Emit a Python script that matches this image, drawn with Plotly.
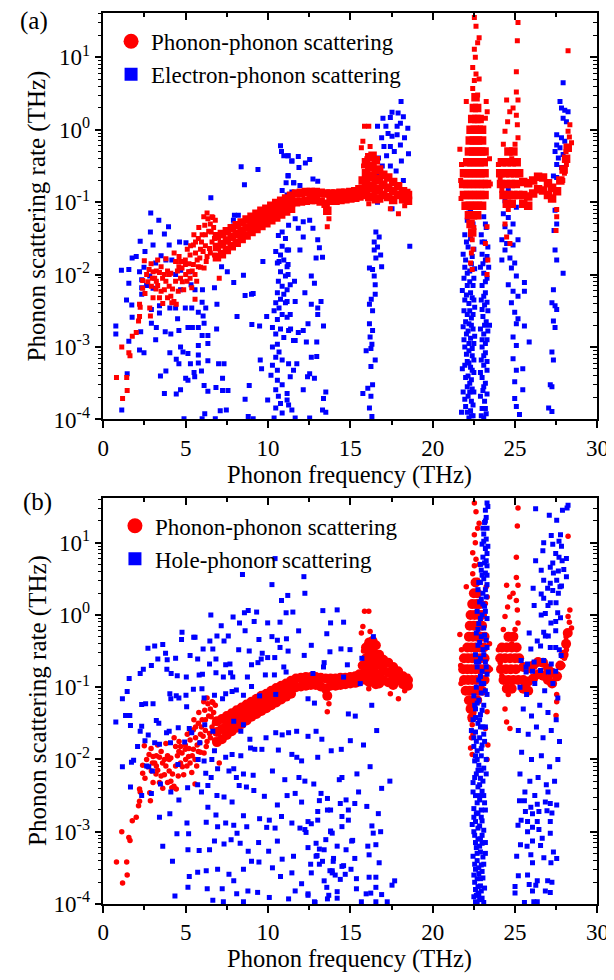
import plotly.graph_objects as go

# ---------------- data: (frequency THz, log10 of scattering rate THz) ----------------
# phonon-phonon scattering, scattered points (same in both panels)
pp_sparse = [
    (0.80,-3.42),(1.17,-3.71),(1.45,-3.60),(1.42,-3.42),(1.12,-3.00),(1.55,-3.08),(1.62,-3.12),
    (1.76,-2.85),(2.00,-2.80),(2.14,-2.64),(2.20,-2.58),(2.24,-2.45),(2.20,-2.41),(2.39,-2.19),
    (2.53,-2.26),(2.39,-2.08),(2.49,-1.81),(2.63,-2.00),(2.78,-1.93),(2.82,-2.46),(2.86,-2.57),
    (2.92,-2.16),(2.98,-2.05),(3.02,-1.96),(3.02,-2.32),(3.12,-2.05),(3.22,-2.09),(3.22,-1.95),
    (3.41,-1.97),(3.41,-2.32),(3.51,-2.23),(3.51,-1.89),(3.61,-2.40),(3.71,-2.21),(3.71,-2.00),
    (3.80,-2.09),(3.90,-2.32),(4.00,-2.16),(4.00,-2.00),(4.10,-1.98),(4.16,-2.39),(4.29,-2.37),
    (4.39,-2.09),(4.39,-1.82),(4.43,-2.41),(4.55,-2.23),(4.59,-1.89),(4.69,-1.82),(4.69,-2.05),
    (4.78,-1.91),(4.88,-2.21),(4.98,-1.80),(4.98,-1.86),(5.08,-2.09),(5.18,-1.96),(5.27,-1.73),
    (5.27,-2.05),(5.37,-2.18),(5.47,-1.59),(5.47,-1.86),(5.57,-2.00),(5.57,-2.34),(5.67,-2.09),
    (5.77,-1.50),(5.77,-1.89),(5.86,-1.77),(5.96,-1.55),(6.06,-1.68),(6.12,-1.91),(6.16,-1.32),
    (6.25,-1.82),(6.35,-1.23),(6.45,-1.64),(6.55,-1.41),(6.65,-1.21),(6.75,-1.50),(6.75,-1.73),
    (7.04,-2.05),(3.30,-2.15),(3.60,-2.05),(3.90,-1.95),(4.20,-2.20),(4.50,-1.95),(4.80,-2.10),
    (5.00,-2.00),(5.20,-1.85),(5.40,-1.95),(5.60,-1.70),(5.70,-1.80),(5.90,-1.65),(6.00,-1.45),
    (6.20,-1.60),(6.30,-1.75),(6.40,-1.40),(6.50,-1.30),(6.60,-1.55),(6.70,-1.35),(6.80,-1.25),
    (6.90,-1.60),(4.10,-2.30),(3.20,-2.20),(2.70,-2.10),(2.90,-1.85),(3.30,-1.80),(3.80,-1.78),
    (4.30,-1.70),(4.60,-1.75),(5.10,-1.65),(5.30,-1.60),(5.50,-1.45),(5.80,-1.35),(6.10,-1.20),
    (6.30,-1.15),(6.60,-1.20),(6.50,-1.70),(6.20,-1.45),(5.90,-1.90),(5.60,-1.55),
    (13.60,-1.34),(13.70,-1.23),(15.86,0.05),(16.12,0.05),(15.76,-0.16),(16.20,-0.23),(15.67,-0.25),
    (16.12,-1.02),(17.92,-1.16),(17.43,-1.09),(18.30,-1.05),(18.50,-0.85),(16.00,-0.40),(15.80,-0.50),
    (22.53,1.55),(22.63,1.43),(22.82,1.27),(22.73,1.20),(22.53,1.11),(22.59,1.00),(22.43,0.86),
    (22.63,0.77),(22.53,0.68),(22.43,0.57),(22.82,0.70),(22.73,0.48),(23.25,0.39),(23.31,0.25),
    (23.20,0.16),(22.04,0.39),(21.65,-0.27),(21.75,-0.48),(21.70,-0.70),(21.72,-0.95),(23.45,-0.40),
    (23.50,-0.75),(22.40,-1.52),(22.30,-1.84),(22.40,-1.93),(22.35,-1.70),(22.45,-1.65),(23.30,-1.34),
    (23.20,-1.57),(23.35,-1.80),(23.30,-2.00),(22.30,-1.45),(22.50,-1.35),
    (24.68,0.25),(24.88,0.30),(25.08,0.20),(25.14,0.07),(24.55,0.11),(24.39,-0.02),(25.18,-0.11),
    (24.29,-0.20),(24.49,0.41),(25.18,0.41),(25.08,0.52),(25.08,0.80),(25.14,1.23),(25.18,1.48),
    (24.59,-1.10),(24.39,-1.30),(24.49,-1.48),(24.69,-1.57),(23.99,-0.48),(24.10,-0.66),(24.20,-0.84),
    (24.80,-0.40),(25.00,-0.20),
    (28.22,1.09),(28.22,-0.02),(28.33,0.07),(28.43,-0.18),(28.12,-0.48),(28.00,-0.60),(27.53,-1.20),
    (27.49,-1.39),(27.53,-1.10),(27.90,-0.70),(28.10,-0.30),(28.30,-0.10),
]

# phonon-phonon scattering, dense band (same in both panels)
pp_dense = [
    (6.9,-1.47),(6.9,-1.62),(6.9,-1.76),(7.2,-1.44),(7.2,-1.58),(7.2,-1.72),
    (7.5,-1.40),(7.5,-1.53),(7.5,-1.66),(7.8,-1.36),(7.8,-1.48),(7.8,-1.61),
    (8.1,-1.32),(8.1,-1.44),(8.1,-1.56),(8.4,-1.28),(8.4,-1.40),(8.4,-1.51),
    (8.7,-1.24),(8.7,-1.35),(8.7,-1.46),(9.0,-1.20),(9.0,-1.31),(9.0,-1.41),
    (9.3,-1.16),(9.3,-1.27),(9.3,-1.37),(9.6,-1.12),(9.6,-1.23),(9.6,-1.33),
    (9.9,-1.09),(9.9,-1.19),(9.9,-1.29),(10.2,-1.05),(10.2,-1.16),(10.2,-1.25),
    (10.5,-1.01),(10.5,-1.12),(10.5,-1.21),(10.8,-0.98),(10.8,-1.08),(10.8,-1.17),
    (11.1,-0.95),(11.1,-1.05),(11.1,-1.13),(11.4,-0.91),(11.4,-1.01),(11.4,-1.09),
    (11.7,-0.88),(11.7,-1.00),(12.0,-0.87),(12.0,-0.99),(12.3,-0.86),(12.3,-0.98),
    (12.6,-0.86),(12.6,-0.97),(12.9,-0.86),(12.9,-0.97),(13.2,-0.87),(13.2,-0.99),
    (13.5,-0.88),(13.5,-1.02),(13.6,-1.12),(13.8,-0.88),(13.8,-0.98),(14.1,-0.88),
    (14.1,-0.98),(14.4,-0.87),(14.4,-0.97),(14.7,-0.87),(14.7,-0.96),(15.0,-0.86),
    (15.0,-0.95),(15.3,-0.85),(15.3,-0.94),(15.55,-0.82),(15.55,-0.92),
    (15.75,-0.70),(15.75,-0.85),(15.95,-0.45),(15.95,-0.60),(15.95,-0.75),(15.95,-0.90),
    (16.15,-0.38),(16.15,-0.52),(16.15,-0.66),(16.15,-0.80),(16.15,-0.93),
    (16.35,-0.36),(16.35,-0.50),(16.35,-0.64),(16.35,-0.78),(16.35,-0.92),
    (16.55,-0.42),(16.55,-0.56),(16.55,-0.70),(16.55,-0.84),(16.55,-0.96),
    (16.75,-0.55),(16.75,-0.68),(16.75,-0.82),(16.75,-0.95),
    (17.0,-0.62),(17.0,-0.76),(17.0,-0.90),(17.3,-0.66),(17.3,-0.80),(17.3,-0.93),
    (17.6,-0.72),(17.6,-0.85),(17.6,-0.97),(17.9,-0.78),(17.9,-0.90),(18.2,-0.85),
    (18.2,-0.96),(18.5,-0.90),(18.5,-0.98),
    (22.6,0.45),(22.5,0.30),(22.7,0.30),(22.4,0.15),(22.65,0.15),(22.85,0.15),
    (22.3,0.0),(22.55,0.0),(22.8,0.0),(23.0,0.0),(22.25,-0.15),(22.5,-0.15),(22.75,-0.15),
    (23.0,-0.15),(22.2,-0.3),(22.45,-0.3),(22.7,-0.3),(22.95,-0.3),(23.15,-0.3),
    (22.1,-0.45),(22.35,-0.45),(22.6,-0.45),(22.85,-0.45),(23.1,-0.45),
    (21.9,-0.6),(22.15,-0.6),(22.4,-0.6),(22.65,-0.6),(22.9,-0.6),(23.15,-0.6),
    (21.85,-0.75),(22.1,-0.75),(22.35,-0.75),(22.6,-0.75),(22.85,-0.75),(23.1,-0.75),(23.3,-0.75),
    (21.9,-0.9),(22.15,-0.9),(22.4,-0.9),(22.65,-0.9),(22.9,-0.9),(23.15,-0.9),
    (22.0,-1.05),(22.25,-1.05),(22.5,-1.05),(22.75,-1.05),(23.0,-1.05),
    (22.2,-1.18),(22.45,-1.18),(22.7,-1.18),(22.3,-1.3),(22.4,-1.42),
    (24.6,-0.3),(24.9,-0.3),(24.2,-0.45),(24.5,-0.45),(24.8,-0.45),(25.1,-0.45),
    (24.1,-0.6),(24.4,-0.6),(24.7,-0.6),(25.0,-0.6),(25.25,-0.6),(24.15,-0.75),(24.45,-0.75),
    (24.75,-0.75),(25.05,-0.75),(24.3,-0.9),(24.6,-0.9),(24.9,-0.9),(25.2,-0.9),(24.5,-1.02),(24.8,-1.02),
    (25.5,-0.72),(25.5,-0.9),(25.8,-0.74),(25.8,-0.92),(26.1,-0.70),(26.1,-0.88),(26.4,-0.65),
    (26.4,-0.82),(26.7,-0.66),(26.7,-0.84),(27.0,-0.74),(27.0,-0.90),(27.25,-0.80),(27.25,-0.95),
    (25.5,-1.02),(25.8,-1.05),
    (27.55,-0.85),(27.75,-0.70),(27.95,-0.55),(28.1,-0.40),(28.2,-0.25),
]

# electron-phonon scattering (panel a)
ep_cloud = [
    (8.37,-0.51),(9.39,-0.55),(8.57,-0.76),(6.53,-0.94),(2.88,-1.15),(3.37,-1.25),(3.96,-1.34),
    (2.86,-1.41),(3.71,-1.44),(2.24,-1.54),(3.02,-1.59),(4.00,-1.59),(4.63,-1.55),(5.02,-1.56),
    (2.53,-1.68),(2.00,-1.75),(1.75,-1.77),(3.51,-1.74),(3.80,-1.80),(4.16,-1.80),(3.18,-1.84),
    (1.10,-1.94),(1.55,-1.93),(2.20,-1.96),(2.47,-1.90),(4.39,-2.00),(4.70,-1.94),(5.27,-1.96),
    (2.82,-2.02),(2.33,-2.07),(2.63,-2.15),(1.55,-2.12),(2.33,-2.18),(3.02,-2.19),(4.69,-2.21),
    (5.33,-2.14),(5.57,-2.21),(6.02,-2.21),(6.75,-2.18),(1.41,-2.35),(2.33,-2.27),(3.41,-2.43),
    (4.39,-2.46),(4.04,-2.46),(4.98,-2.46),(5.37,-2.46),(6.00,-2.38),(6.22,-2.46),(6.90,-2.41),
    (1.73,-2.42),(2.92,-2.48),(3.41,-2.53),(4.51,-2.61),(5.77,-2.52),(6.06,-2.57),(8.12,-2.58),
    (7.92,-2.11),(8.51,-2.01),(7.53,-1.96),(7.18,-1.89),(9.10,-2.26),(8.61,-2.29),(9.92,-2.58),
    (9.02,-2.69),(9.49,-2.71),(6.88,-2.75),(6.12,-2.67),(1.75,-2.59),(0.76,-2.71),(0.76,-2.82),
    (2.27,-2.79),(2.92,-2.67),(3.22,-2.73),(3.76,-2.79),(4.10,-2.82),(4.59,-2.77),(5.14,-2.73),
    (5.41,-2.73),(5.77,-2.73),(3.18,-2.90),(6.00,-2.84),(6.35,-2.84),(6.35,-2.95),(5.77,-2.98),
    (1.55,-2.92),(2.20,-3.04),(2.47,-3.08),(4.04,-3.08),(4.69,-3.00),(4.84,-3.07),(5.14,-3.09),
    (5.77,-3.11),(4.43,-3.17),(4.59,-3.23),(5.29,-3.23),(5.77,-3.22),(5.96,-3.33),(5.51,-3.35),
    (6.35,-3.19),(7.00,-3.23),(7.33,-3.23),(3.80,-3.33),(3.47,-3.40),(5.00,-3.43),(5.14,-3.46),
    (5.55,-3.41),(6.12,-3.53),(6.35,-3.61),(6.84,-3.56),(7.24,-3.43),(7.24,-3.60),(7.57,-3.60),
    (4.69,-3.59),(3.71,-3.64),(4.43,-3.65),(8.86,-3.53),(8.61,-3.72),(9.53,-3.18),(9.61,-3.30),
    (9.98,-3.73),(1.12,-3.87),(1.45,-3.37),(6.16,-3.92),(7.10,-3.88),(7.47,-3.87),(8.80,-3.96),
    (9.10,-3.99),(6.80,-3.99),(6.00,-3.99),(4.90,-3.99),(9.69,-1.82),(7.96,-1.18),(8.20,-1.18),
    (7.90,-1.25),(7.90,-1.33),(7.57,-1.38),(9.00,-2.27),
]
ep_col_11 = [
    (10.76,-0.22),(10.82,-0.30),(10.96,-0.36),(11.22,-0.36),(11.45,-0.43),(11.22,-0.63),(11.57,-0.73),
    (10.86,-0.84),(11.45,-0.86),(11.16,-0.90),(10.76,-1.14),(10.86,-1.41),(10.63,-1.46),(11.06,-1.50),
    (10.86,-1.61),(11.16,-1.66),(10.76,-1.73),(10.96,-1.80),(10.57,-1.84),(11.16,-1.89),(10.76,-1.96),
    (11.06,-2.02),(10.63,-2.09),(10.86,-2.16),(11.16,-2.21),(10.57,-2.25),(10.96,-2.27),(10.76,-2.34),
    (10.47,-2.39),(11.06,-2.39),(10.67,-2.46),(10.37,-2.50),(10.86,-2.55),(10.57,-2.62),(11.16,-2.59),
    (10.27,-2.73),(10.76,-2.75),(10.47,-2.82),(10.96,-2.87),(10.57,-2.96),(10.27,-3.00),(10.67,-3.07),
    (10.47,-3.14),(10.86,-3.18),(10.27,-3.25),(10.57,-3.32),(10.18,-3.39),(10.57,-3.46),(10.86,-3.52),
    (10.47,-3.59),(10.63,-3.68),(10.76,-3.78),(10.47,-3.84),(10.86,-3.91),(10.37,-3.98),(11.25,-3.23),
    (11.16,-3.64),(11.45,-3.87),(11.55,-2.91),(11.37,-2.75),(11.65,-2.37),(11.61,-2.09),(10.67,-1.82),
    (10.47,-1.68),(11.25,-1.32),
    (11.84,-0.37),(11.22,-0.36),(11.45,-0.43),(11.88,-0.52),(12.27,-0.46),(12.53,-0.41),(12.73,-0.68),
    (13.02,-0.71),(11.22,-0.64),(11.55,-0.73),(11.94,-0.77),(11.10,-0.73),(11.65,-1.23),(12.14,-1.27),
    (12.53,-1.25),(11.84,-1.36),(12.73,-1.36),(12.14,-1.48),(13.02,-1.52),(11.94,-1.66),(13.12,-1.63),
    (11.25,-1.66),(11.22,-1.86),(12.92,-1.77),(13.31,-1.76),(12.63,-2.02),(11.22,-2.00),(11.35,-2.14),
    (12.82,-2.12),(11.16,-2.37),(12.24,-2.25),(12.63,-2.41),(13.02,-2.46),(13.22,-2.37),(13.02,-2.55),
    (11.35,-2.55),(11.25,-2.77),(11.84,-2.80),(12.14,-2.77),(12.43,-2.68),(13.37,-2.71),(11.65,-2.91),
    (12.33,-2.93),(12.96,-2.93),(12.63,-3.14),(12.96,-3.13),(11.75,-3.23),(11.55,-3.32),(12.53,-3.37),
    (12.40,-3.41),(12.82,-3.43),(11.35,-3.41),(13.51,-3.62),(13.37,-3.71),(12.14,-3.59),(11.16,-3.73),
    (11.25,-3.80),(13.31,-3.87),(13.51,-3.90),(11.65,-3.98),(12.53,-3.98),
]
ep_col_16 = [
    (16.55,-1.41),(16.75,-1.48),(16.45,-1.55),(16.65,-1.62),(16.84,-1.73),(16.45,-1.66),(16.55,-1.77),
    (16.16,-1.91),(16.90,-1.89),(16.35,-1.93),(16.45,-2.02),(16.51,-2.14),(16.51,-2.27),(16.27,-2.34),
    (16.16,-2.41),(16.35,-2.50),(16.16,-2.68),(16.35,-2.77),(16.20,-2.86),(16.31,-2.96),(15.96,-3.05),
    (16.25,-3.02),(16.51,-3.18),(16.25,-3.27),(16.35,-3.52),(16.06,-3.57),(15.76,-3.64),(16.25,-3.68),
    (16.16,-3.84),(16.31,-3.96),(18.61,-1.61),
    (18.08,0.39),(17.53,0.24),(17.90,0.23),(18.22,0.18),(16.98,0.16),(17.43,0.17),(17.16,0.05),
    (17.84,0.05),(18.04,0.09),(18.49,0.02),(16.65,0.05),(16.90,-0.11),(17.29,-0.05),(17.53,-0.09),
    (17.84,-0.07),(18.29,-0.11),(17.04,-0.23),(17.43,-0.23),(18.04,-0.21),(18.53,-0.33),(17.67,-0.30),
    (17.20,-0.36),(16.71,-0.39),(18.10,-0.43),(17.43,-0.50),(17.78,-0.57),(18.22,-0.70),(16.94,-0.50),
    (16.65,-0.64),(17.53,-1.09),(16.65,-1.00),
]
ep_col_22 = [
    (22.30,-1.12),(22.10,-1.25),(22.45,-1.30),(21.95,-1.45),(22.30,-1.50),(22.15,-1.62),(22.50,-1.65),
    (21.85,-1.72),(22.00,-1.80),(22.35,-1.85),(22.55,-1.92),(22.10,-1.98),(21.90,-2.05),(22.25,-2.10),
    (22.45,-2.15),(21.80,-2.22),(22.05,-2.28),(22.40,-2.32),(22.20,-2.40),(22.55,-2.45),(21.90,-2.50),
    (22.10,-2.55),(22.35,-2.60),(22.20,-2.68),(21.85,-2.72),(22.45,-2.75),(22.05,-2.82),(22.30,-2.88),
    (22.50,-2.95),(21.95,-3.00),(22.20,-3.05),(22.40,-3.12),(22.10,-3.20),(22.30,-3.28),(21.80,-3.30),
    (22.50,-3.35),(22.00,-3.42),(22.25,-3.50),(22.40,-3.58),(21.85,-3.62),(22.15,-3.68),(22.35,-3.75),
    (22.00,-3.82),(22.30,-3.88),(22.45,-3.95),(22.20,-3.98),(21.75,-3.90),
    (22.20,-1.15),(22.40,-1.40),(22.05,-1.55),(22.40,-1.75),(21.95,-1.90),(22.25,-1.95),(22.50,-2.05),
    (22.10,-2.15),(22.30,-2.25),(21.95,-2.35),(22.50,-2.35),(22.25,-2.50),(22.45,-2.55),(22.00,-2.65),
    (22.35,-2.70),(22.15,-2.78),(22.55,-2.85),(21.90,-2.90),(22.20,-2.95),(22.40,-3.02),(22.05,-3.10),
    (22.50,-3.18),(22.20,-3.22),(21.95,-3.25),(22.40,-3.32),(22.15,-3.40),(22.35,-3.45),(22.10,-3.55),
    (22.50,-3.62),(22.25,-3.62),(21.95,-3.72),(22.45,-3.80),(22.10,-3.90),(22.35,-3.95),
    (23.10,-1.20),(23.25,-1.35),(22.95,-1.45),(23.15,-1.55),(23.35,-1.62),(23.00,-1.72),(23.20,-1.80),
    (22.90,-1.90),(23.10,-1.98),(23.30,-2.05),(23.00,-2.15),(23.20,-2.25),(22.95,-2.35),(23.15,-2.42),
    (23.35,-2.50),(23.05,-2.58),(23.25,-2.65),(22.90,-2.75),(23.10,-2.82),(23.30,-2.90),(23.00,-3.00),
    (23.20,-3.08),(22.95,-3.18),(23.10,-3.25),(23.30,-3.32),(23.00,-3.42),(23.20,-3.50),(23.05,-3.60),
    (22.90,-3.68),(23.15,-3.75),(23.00,-3.85),(23.25,-3.92),(23.10,-3.98),(23.40,-1.90),(23.45,-2.70),
    (23.20,-1.30),(23.00,-1.55),(23.30,-1.75),(23.05,-1.85),(23.20,-2.10),(23.10,-2.30),(23.30,-2.38),
    (23.00,-2.48),(23.15,-2.70),(23.35,-2.78),(23.00,-2.90),(23.20,-2.95),(23.10,-3.12),(23.30,-3.20),
    (22.90,-3.35),(23.10,-3.55),(23.30,-3.65),(23.20,-3.85),(22.95,-3.95),
]
ep_col_25 = [
    (24.59,-0.84),(24.39,-0.98),(24.78,-1.02),(25.08,-1.07),(24.29,-1.16),(24.59,-1.21),(24.88,-1.30),
    (24.39,-1.34),(24.69,-1.41),(24.20,-1.52),(24.49,-1.57),(24.88,-1.59),(25.18,-1.52),(24.39,-1.66),
    (24.69,-1.77),(24.98,-1.84),(24.78,-1.91),(24.20,-1.80),(25.08,-2.02),(25.57,-2.11),(24.59,-2.14),
    (24.88,-2.23),(25.57,-2.23),(25.18,-2.30),(24.78,-2.39),(24.98,-2.52),(25.18,-2.61),(25.57,-2.71),
    (25.08,-2.68),(25.86,-2.93),(24.88,-2.86),(25.08,-2.98),(24.88,-3.16),(25.08,-3.32),(25.47,-3.30),
    (24.98,-3.48),(25.47,-3.59),(24.98,-3.71),(25.08,-3.82),(25.27,-3.93),
]
ep_col_28 = [
    (27.92,0.65),(27.73,0.39),(27.82,0.30),(28.02,0.27),(28.22,0.25),(27.92,0.16),(28.12,0.11),
    (27.53,-0.07),(27.82,-0.11),(28.02,-0.16),(27.53,-0.21),(27.73,-0.25),(27.43,-0.30),(28.12,-0.25),
    (27.92,-0.34),(27.63,-0.39),(27.53,-0.48),(27.82,-0.52),(27.33,-0.64),(27.53,-0.66),(27.43,-1.11),
    (27.53,-1.30),(27.37,-1.39),(27.43,-1.66),(27.53,-1.80),(27.92,-1.98),(27.33,-2.21),(27.24,-2.39),
    (27.43,-2.43),(27.53,-2.48),(27.33,-2.64),(27.43,-2.73),(27.24,-3.07),(27.33,-3.18),(27.14,-3.52),
    (27.24,-3.55),(27.04,-3.84),(27.24,-3.89),
]

# hole-phonon scattering (panel b)
hp_cloud = [
    (8.45,0.56),(12.18,0.53),(10.24,0.42),(12.24,0.30),(11.20,0.27),(10.82,0.20),(13.33,0.06),
    (14.20,0.07),(8.57,0.03),(8.80,0.06),(9.31,0.04),(6.53,0.00),(7.88,-0.03),(8.27,-0.11),
    (7.16,-0.15),(9.16,-0.09),(9.98,-0.11),(10.73,-0.10),(11.10,0.03),(11.51,0.04),(13.80,-0.11),
    (14.59,-0.10),(11.86,-0.22),(13.57,-0.26),(4.78,-0.24),(5.49,-0.31),(5.57,-0.31),(6.47,-0.36),
    (6.90,-0.29),(7.33,-0.36),(7.59,-0.29),(8.61,-0.22),(9.45,-0.34),(10.24,-0.30),(10.57,-0.35),
    (11.12,-0.33),(2.71,-0.46),(3.12,-0.43),(3.61,-0.41),(4.75,-0.34),(6.06,-0.47),(6.65,-0.47),
    (8.22,-0.48),(8.86,-0.50),(9.65,-0.53),(10.73,-0.45),(11.22,-0.50),(12.63,-0.42),(13.76,-0.51),
    (14.43,-0.47),(14.98,-0.48),(3.78,-0.53),(3.31,-0.61),(3.88,-0.62),(4.39,-0.60),(5.27,-0.56),
    (5.73,-0.61),(6.45,-0.68),(6.84,-0.61),(7.43,-0.69),(7.69,-0.68),(9.00,-0.69),(9.39,-0.66),
    (9.59,-0.61),(9.98,-0.59),(10.41,-0.59),(10.96,-0.72),(12.20,-0.56),(13.37,-0.72),(13.41,-0.66),
    (2.92,-0.70),(2.43,-0.75),(2.24,-0.81),(1.57,-0.88),(3.86,-0.75),(4.12,-0.81),(4.49,-0.84),
    (5.04,-0.86),(5.82,-0.83),(6.02,-0.82),(6.84,-0.80),(7.29,-0.86),(7.73,-0.80),(7.86,-0.86),
    (8.75,-0.86),(9.84,-0.83),(10.39,-0.83),(11.10,-0.79),(12.73,-0.81),(14.59,-0.86),(14.82,-0.69),
    (1.45,-1.06),(1.16,-1.16),(2.33,-1.24),(2.57,-1.23),(3.02,-1.23),(4.04,-1.09),(4.10,-1.16),
    (4.43,-1.12),(4.59,-1.15),(5.02,-1.11),(5.06,-1.27),(5.47,-1.03),(5.99,-1.02),(6.12,-1.15),
    (6.75,-1.11),(7.24,-1.16),(7.43,-1.09),(7.82,-1.06),(8.08,-1.04),(8.51,-1.11),(9.00,-0.99),
    (9.49,-1.12),(10.47,-1.10),(12.43,-1.16),(12.82,-1.22),(14.88,-1.37),(0.76,-1.48),(1.35,-1.39),
    (1.61,-1.39),(1.65,-1.53),(2.33,-1.54),(2.24,-1.61),(2.73,-1.66),(3.22,-1.46),(3.37,-1.50),
    (4.00,-1.61),(3.84,-1.63),(4.55,-1.56),(5.37,-1.63),(5.86,-1.77),(6.16,-1.52),(6.65,-1.61),
    (8.51,-1.52),(8.35,-1.61),(7.92,-1.47),(8.90,-1.72),(9.88,-1.70),(10.47,-1.63),(10.86,-1.66),
    (11.25,-1.63),(11.74,-1.61),(12.92,-1.61),(13.27,-1.72),(12.43,-1.68),(15.00,-1.74),(2.08,-1.82),
    (2.53,-1.74),(3.12,-1.77),(3.41,-1.79),(4.08,-1.77),(4.94,-1.76),(5.22,-1.57),(6.12,-2.02),
    (6.75,-1.88),(7.43,-1.97),(7.82,-1.93),(8.35,-1.95),(8.94,-1.84),(9.20,-1.86),(9.63,-1.86),
    (10.63,-1.87),(11.45,-1.93),(11.75,-1.97),(12.04,-2.02),(13.02,-1.97),(13.84,-1.88),(14.45,-1.86),
    (1.71,-2.04),(1.84,-2.01),(1.16,-2.10),(2.63,-2.09),(2.98,-2.16),(2.76,-2.10),(4.53,-2.07),
    (5.76,-2.00),(6.22,-2.19),(6.59,-2.00),(6.94,-2.13),(6.55,-2.25),(7.63,-2.16),(7.92,-2.13),
    (8.08,-2.25),(8.51,-2.20),(9.10,-2.22),(10.27,-2.16),(11.02,-2.28),(11.88,-2.25),(12.24,-2.30),
    (12.78,-2.34),(14.33,-2.28),(14.49,-2.25),(1.65,-2.38),(2.33,-2.50),(2.92,-2.47),(3.47,-2.34),
    (4.10,-2.45),(4.59,-2.56),(5.12,-2.39),(5.73,-2.35),(6.35,-2.36),(5.96,-2.45),(6.90,-2.50),
    (7.33,-2.52),(7.82,-2.59),(8.25,-2.36),(8.69,-2.38),(9.14,-2.43),(9.78,-2.51),(10.57,-2.63),
    (11.16,-2.50),(11.65,-2.47),(12.04,-2.59),(13.22,-2.47),(13.61,-2.70),(14.39,-2.61),(14.88,-2.84),
    (3.41,-2.80),(4.04,-2.75),(4.47,-3.03),(5.08,-2.88),(5.18,-3.03),(6.25,-2.87),(6.35,-2.66),
    (6.84,-2.77),(6.94,-2.93),(7.43,-2.88),(7.92,-2.91),(8.12,-3.02),(8.51,-2.78),(8.71,-2.93),
    (9.49,-2.82),(9.92,-2.94),(10.08,-2.84),(10.43,-2.95),(10.82,-2.79),(11.45,-2.88),(11.94,-2.95),
    (12.31,-3.01),(13.02,-2.84),(13.80,-2.99),(14.49,-2.93),(15.08,-3.13),(3.61,-3.20),(5.14,-3.25),
    (5.82,-3.26),(6.45,-3.25),(6.75,-3.13),(7.33,-3.17),(7.76,-3.11),(8.31,-3.16),(8.80,-3.27),
    (9.43,-3.15),(10.04,-3.27),(10.57,-3.13),(10.86,-3.38),(11.55,-3.34),(12.43,-3.22),(12.98,-3.33),
    (13.41,-3.25),(13.96,-3.41),(14.49,-3.48),(4.20,-3.41),(5.73,-3.56),(6.25,-3.54),(6.94,-3.52),
    (7.63,-3.59),(7.92,-3.68),(8.51,-3.52),(9.00,-3.41),(9.45,-3.42),(10.27,-3.50),(10.76,-3.62),
    (11.45,-3.57),(12.04,-3.72),(12.63,-3.57),(13.41,-3.68),(13.90,-3.54),(14.39,-3.66),(5.22,-3.62),
    (5.14,-3.77),(6.31,-3.79),(7.22,-3.79),(8.10,-3.86),(8.78,-3.82),(9.37,-3.84),(10.08,-3.91),
    (11.25,-3.93),(11.65,-3.82),(12.43,-3.86),(13.61,-3.93),(4.35,-3.89),(6.65,-3.95),(8.51,-3.97),
    (12.82,-3.97),(14.20,-3.92),(7.29,-3.97),(10.43,0.78),
    (12.43,-2.86),(12.63,-2.89),(13.12,-2.57),(13.61,-2.54),(14.74,-2.56),(15.27,-2.61),(14.88,-2.70),
    (14.49,-2.79),(13.80,-2.70),(13.02,-2.72),(12.24,-2.97),(13.80,-3.00),(13.90,-3.02),(12.92,-3.16),
    (13.51,-3.11),(13.12,-3.24),(14.20,-3.20),(14.74,-3.25),(15.14,-3.12),(16.06,-3.20),(16.55,-3.18),
    (16.39,-3.02),(16.84,-3.00),(16.31,-2.92),(15.27,-3.37),(12.92,-3.34),(13.31,-3.41),(13.98,-3.37),
    (12.59,-3.45),(13.12,-3.45),(13.76,-3.54),(14.59,-3.47),(15.04,-3.52),(16.14,-3.32),(16.75,-3.43),
    (13.90,-3.57),(14.08,-3.60),(14.69,-3.59),(15.37,-3.65),(16.14,-3.63),(16.55,-3.63),(17.69,-3.68),
    (17.53,-3.74),(16.55,-3.77),(15.37,-3.79),(13.57,-3.77),(14.20,-3.83),(13.69,-3.88),(12.43,-3.88),
    (15.96,-3.86),(16.24,-3.85),(16.90,-3.87),(15.67,-3.97),(16.55,-3.97),(17.24,-3.97),(12.86,-3.98),
    (15.40,-2.20),(16.20,-2.10),(15.80,-1.80),(16.60,-1.60),(15.30,-1.40),(16.30,-1.25),(15.60,-0.95),
    (16.90,-2.40),(17.40,-2.30),(15.50,-2.45),(16.00,-2.65),(16.70,-2.75),(15.70,-0.60),(16.40,-0.30),
]
hp_col_23 = [
    (23.30,1.55),(23.20,1.45),(23.25,1.35),(23.15,1.28),(23.30,1.20),(23.10,1.12),(23.25,1.05),
    (23.00,0.98),(23.20,0.92),(23.30,0.85),(23.05,0.80),(23.15,0.72),(23.30,0.68),(22.95,0.62),
    (23.20,0.58),(23.10,0.50),(22.90,0.45),(23.30,0.42),(22.75,0.35),(23.05,0.30),(23.25,0.25),
    (22.85,0.18),(23.15,0.12),(22.70,0.05),(23.00,0.00),(23.30,-0.05),(22.80,-0.12),(23.10,-0.18),
    (22.65,-0.25),(22.95,-0.30),(23.25,-0.35),(22.75,-0.42),(23.05,-0.48),(22.60,-0.55),(22.90,-0.60),
    (23.20,-0.65),(22.70,-0.72),(23.00,-0.78),(23.30,-0.82),(22.80,-0.90),(23.10,-0.95),(22.65,-1.00),
    (22.95,-1.08),(22.50,-1.12),(22.80,-1.18),(23.10,-1.25),(22.60,-1.30),(22.90,-1.38),(22.45,-1.45),
    (22.75,-1.50),(23.05,-1.55),(22.60,-1.62),(22.85,-1.70),(23.15,-1.75),(22.50,-1.82),(22.70,-1.88),
    (22.95,-1.95),(22.55,-2.02),(22.80,-2.08),(23.10,-2.12),(22.65,-2.20),(22.90,-2.26),(22.45,-2.32),
    (22.75,-2.38),(23.00,-2.44),(22.60,-2.50),(22.85,-2.56),(23.15,-2.60),(22.50,-2.68),(22.75,-2.74),
    (22.95,-2.80),(22.60,-2.86),(22.85,-2.92),(23.10,-2.98),(22.55,-3.05),(22.75,-3.10),(23.00,-3.16),
    (22.65,-3.22),(22.90,-3.28),(22.45,-3.34),(22.70,-3.40),(22.95,-3.46),(22.60,-3.52),(22.80,-3.58),
    (23.05,-3.64),(22.55,-3.70),(22.75,-3.76),(22.95,-3.82),(22.65,-3.88),(22.85,-3.94),(22.70,-3.99),
    (23.20,-3.30),(22.40,-2.90),(23.25,-2.20),(22.35,-1.60),
    (23.20,1.30),(23.10,1.02),(23.25,0.75),(23.00,0.55),(23.20,0.35),(22.95,0.22),(23.20,0.05),
    (22.90,-0.05),(23.15,-0.28),(22.85,-0.38),(23.10,-0.55),(22.80,-0.65),(23.25,-0.72),(22.90,-0.85),
    (23.20,-1.05),(22.70,-1.22),(23.00,-1.32),(22.60,-1.42),(22.90,-1.55),(23.10,-1.65),(22.65,-1.75),
    (22.95,-1.85),(22.70,-2.00),(22.95,-2.15),(22.55,-2.25),(22.85,-2.35),(23.10,-2.50),(22.70,-2.60),
    (22.95,-2.70),(22.50,-2.80),(22.75,-2.95),(23.00,-3.05),(22.60,-3.15),(22.85,-3.20),(23.05,-3.35),
    (22.55,-3.45),(22.80,-3.50),(23.00,-3.55),(22.70,-3.65),(22.90,-3.75),(22.60,-3.80),(22.80,-3.88),
    (23.00,-3.92),(22.60,-3.97),
    (23.35,1.50),(23.05,1.20),(23.35,0.95),(22.90,0.70),(23.30,0.55),(22.80,0.45),(23.05,0.15),
    (22.75,-0.20),(23.30,-0.45),(22.65,-0.65),(22.95,-0.95),(23.30,-1.10),(22.55,-1.25),(22.85,-1.45),
    (23.20,-1.55),(22.50,-1.70),(23.00,-1.80),(22.60,-1.95),(23.25,-2.00),(22.75,-2.15),(23.05,-2.30),
    (22.45,-2.45),(22.90,-2.50),(23.20,-2.70),(22.65,-2.75),(23.00,-2.85),(22.50,-3.00),(22.90,-3.10),
    (23.20,-3.15),(22.70,-3.30),(23.10,-3.45),(22.50,-3.60),(22.90,-3.65),(23.15,-3.78),(22.75,-3.85),
    (22.50,-3.90),(23.10,-3.98),
]
hp_cloud_26 = [
    (26.25,1.47),(27.08,1.38),(27.53,1.31),(27.88,1.45),(28.22,1.52),(28.16,1.48),(27.20,1.10),
    (27.76,1.11),(26.74,1.00),(27.29,0.98),(27.67,1.02),(27.82,0.95),(26.25,0.75),(26.69,0.89),
    (27.47,0.85),(27.67,0.80),(27.86,0.75),(27.29,0.72),(27.14,0.66),(27.33,0.58),(26.59,0.62),
    (28.12,0.78),(27.63,0.61),(27.96,0.63),(26.74,0.48),(27.14,0.44),(27.53,0.48),(28.12,0.53),
    (27.73,0.39),(26.10,0.37),(26.98,0.37),(27.29,0.34),(26.59,0.29),(26.16,0.13),(26.74,0.23),
    (27.14,0.17),(27.00,0.13),(27.49,0.17),(27.63,0.30),(27.82,0.40),(26.59,0.00),(26.84,0.02),
    (27.18,-0.11),(27.47,-0.09),(27.76,-0.04),(27.59,0.03),(25.86,-0.25),(26.74,-0.24),(27.02,-0.29),
    (27.47,-0.22),(26.35,-0.36),(26.84,-0.29),(26.55,-0.43),(25.96,-0.47),(27.14,-0.45),(27.47,-0.45),
    (27.69,-0.48),(27.80,-0.56),(25.37,-0.63),(25.76,-0.68),(26.16,-0.65),(26.74,-0.63),(27.20,-0.68),
    (25.67,-0.79),(26.06,-0.78),(26.55,-0.77),(27.02,-0.79),(27.47,-0.78),(25.67,-0.72),
    (25.30,-1.00),(25.70,-1.10),(26.20,-0.95),(26.80,-1.05),(27.30,-0.95),(27.60,-1.15),(25.50,-1.30),
    (26.00,-1.40),(26.50,-1.25),(27.00,-1.35),(27.50,-1.45),(25.20,-1.60),(25.80,-1.65),(26.30,-1.55),
    (26.70,-1.70),(27.20,-1.60),(27.70,-1.75),(25.40,-1.90),(26.00,-2.00),(26.60,-1.95),(27.10,-2.10),
    (27.60,-2.00),(25.30,-2.20),(25.90,-2.30),(26.40,-2.25),(26.90,-2.35),(27.40,-2.30),(25.60,-2.45),
    (26.20,-2.50),(27.00,-2.45),
    (25.27,-2.57),(25.57,-2.57),(25.96,-2.66),(26.35,-2.62),(26.84,-2.59),(27.14,-2.61),(27.53,-2.63),
    (25.63,-2.72),(26.06,-2.75),(26.45,-2.72),(26.94,-2.71),(27.24,-2.74),(25.37,-2.84),(25.76,-2.86),
    (26.35,-2.86),(27.14,-2.86),(25.18,-2.91),(26.06,-2.94),(26.45,-2.97),(27.14,-3.02),(25.76,-3.00),
    (26.65,-3.09),(25.33,-3.18),(25.73,-3.20),(26.06,-3.13),(26.55,-3.19),(27.33,-3.28),(25.10,-3.34),
    (25.96,-3.32),(26.75,-3.36),(27.53,-3.37),(26.06,-3.43),(27.18,-3.43),(25.20,-3.61),(25.76,-3.60),
    (26.35,-3.68),(26.98,-3.68),(27.24,-3.70),(25.00,-3.76),(25.86,-3.73),(26.26,-3.74),(26.84,-3.82),
    (27.14,-3.84),(25.00,-3.85),(26.06,-3.82),(25.57,-3.98),(26.14,-3.97),(26.35,-3.97),
]

x_tick_vals = [0, 5, 10, 15, 20, 25, 30]
y_tick_vals = [1e-4, 1e-3, 1e-2, 1e-1, 1e0, 1e1]
y_tick_text = ["10<sup>-4</sup>", "10<sup>-3</sup>", "10<sup>-2</sup>", "10<sup>-1</sup>",
               "10<sup>0</sup>", "10<sup>1</sup>"]

# ---------------- helpers ----------------
def freqs(*groups):
    return [p[0] for g in groups for p in g]

def rates(*groups):
    return [10 ** p[1] for g in groups for p in g]

RED = "rgb(255,0,0)"
BLUE = "rgb(0,0,255)"
FONT = "Liberation Serif, Times New Roman, Times, serif"

fig = go.Figure()

# ---- panel (a): blue first, red on top ----
fig.add_trace(go.Scatter(
    x=freqs(ep_cloud, ep_col_11, ep_col_16, ep_col_22, ep_col_25, ep_col_28),
    y=rates(ep_cloud, ep_col_11, ep_col_16, ep_col_22, ep_col_25, ep_col_28),
    mode="markers", marker=dict(symbol="square", size=5, color=BLUE),
    xaxis="x", yaxis="y", showlegend=False, hoverinfo="skip"))
fig.add_trace(go.Scatter(
    x=freqs(pp_dense), y=rates(pp_dense), mode="markers",
    marker=dict(symbol="square", size=8.5, color=RED),
    xaxis="x", yaxis="y", showlegend=False, hoverinfo="skip"))
fig.add_trace(go.Scatter(
    x=freqs(pp_sparse), y=rates(pp_sparse), mode="markers",
    marker=dict(symbol="square", size=5, color=RED),
    xaxis="x", yaxis="y", showlegend=False, hoverinfo="skip"))

# ---- panel (b): red first, blue on top ----
fig.add_trace(go.Scatter(
    x=freqs(pp_dense), y=rates(pp_dense), mode="markers",
    marker=dict(symbol="circle", size=10, color=RED),
    xaxis="x2", yaxis="y2", showlegend=False, hoverinfo="skip"))
fig.add_trace(go.Scatter(
    x=freqs(pp_sparse), y=rates(pp_sparse), mode="markers",
    marker=dict(symbol="circle", size=5.5, color=RED),
    xaxis="x2", yaxis="y2", showlegend=False, hoverinfo="skip"))
fig.add_trace(go.Scatter(
    x=freqs(hp_cloud, hp_col_23, hp_cloud_26),
    y=rates(hp_cloud, hp_col_23, hp_cloud_26),
    mode="markers", marker=dict(symbol="square", size=5, color=BLUE),
    xaxis="x2", yaxis="y2", showlegend=False, hoverinfo="skip"))

# ---- legend entries ----
fig.add_trace(go.Scatter(x=[None], y=[None], mode="markers", name="Phonon-phonon scattering",
                         marker=dict(symbol="circle", size=15, color=RED),
                         xaxis="x", yaxis="y", legend="legend"))
fig.add_trace(go.Scatter(x=[None], y=[None], mode="markers", name="Electron-phonon scattering",
                         marker=dict(symbol="square", size=13, color=BLUE),
                         xaxis="x", yaxis="y", legend="legend"))
fig.add_trace(go.Scatter(x=[None], y=[None], mode="markers", name="Phonon-phonon scattering",
                         marker=dict(symbol="circle", size=15, color=RED),
                         xaxis="x2", yaxis="y2", legend="legend2"))
fig.add_trace(go.Scatter(x=[None], y=[None], mode="markers", name="Hole-phonon scattering",
                         marker=dict(symbol="square", size=13, color=BLUE),
                         xaxis="x2", yaxis="y2", legend="legend2"))

# dummy traces for top/right inward tick axes
fig.add_trace(go.Scatter(x=[None], y=[None], xaxis="x3", yaxis="y3", showlegend=False))
fig.add_trace(go.Scatter(x=[None], y=[None], xaxis="x4", yaxis="y4", showlegend=False))

XD = [92 / 614, 601 / 614]
YA = [1 - 417 / 980, 1 - 5 / 980]
YB = [1 - 908 / 980, 1 - 497 / 980]
YR = [-4, 1.613]
minor_y = [k * 10 ** n for n in range(-4, 2) for k in range(2, 10)]

tickfont = dict(family=FONT, size=23, color="black")

def xaxis_main(domain_anchor):
    return dict(domain=XD, anchor=domain_anchor, range=[0, 30], tickvals=x_tick_vals,
                ticks="outside", ticklen=7, tickwidth=1.5, tickcolor="black",
                minor=dict(dtick=2.5, tick0=0, ticks="outside", ticklen=4, tickwidth=1.5,
                           tickcolor="black", showgrid=False),
                showline=True, linewidth=1.5, linecolor="black", mirror=True,
                showgrid=False, zeroline=False, tickfont=tickfont)

def yaxis_main(domain, anchor):
    return dict(domain=domain, anchor=anchor, type="log", range=YR,
                tickvals=y_tick_vals, ticktext=y_tick_text,
                ticks="outside", ticklen=7, tickwidth=1.5, tickcolor="black",
                minor=dict(tickvals=minor_y, ticks="outside", ticklen=4, tickwidth=1.2,
                           tickcolor="black", showgrid=False),
                showline=True, linewidth=1.5, linecolor="black", mirror=True,
                showgrid=False, zeroline=False, tickfont=tickfont)

def xaxis_top(overlay, anchor):
    return dict(overlaying=overlay, anchor=anchor, side="top", range=[0, 30],
                tickvals=x_tick_vals, ticks="inside", ticklen=7, tickwidth=1.5, tickcolor="black",
                minor=dict(dtick=2.5, tick0=0, ticks="inside", ticklen=4, tickwidth=1.5,
                           tickcolor="black", showgrid=False),
                showticklabels=False, showline=False, showgrid=False, zeroline=False)

def yaxis_right(overlay, anchor):
    return dict(overlaying=overlay, anchor=anchor, side="right", type="log", range=YR,
                tickvals=y_tick_vals, ticks="inside", ticklen=7, tickwidth=1.5, tickcolor="black",
                minor=dict(tickvals=minor_y, ticks="inside", ticklen=4, tickwidth=1.2,
                           tickcolor="black", showgrid=False),
                showticklabels=False, showline=False, showgrid=False, zeroline=False)

legend_common = dict(font=dict(family=FONT, size=23, color="black"), bgcolor="rgba(0,0,0,0)",
                     borderwidth=0, xanchor="left", yanchor="top", itemsizing="trace",
                     tracegroupgap=0)

def paper_text(text, px, py, size, angle=0):
    return dict(text=text, x=px / 614, y=1 - py / 980, xref="paper", yref="paper",
                xanchor="center", yanchor="middle", showarrow=False, textangle=angle,
                font=dict(family=FONT, size=size, color="black"))

fig.update_layout(
    width=614, height=980,
    margin=dict(l=0, r=0, t=0, b=0),
    paper_bgcolor="white", plot_bgcolor="white",
    font=dict(family=FONT, color="black"),
    xaxis=xaxis_main("y"),
    yaxis=yaxis_main(YA, "x"),
    xaxis2=xaxis_main("y2"),
    yaxis2=yaxis_main(YB, "x2"),
    xaxis3=xaxis_top("x", "y3"),
    yaxis3=yaxis_right("y", "x3"),
    xaxis4=xaxis_top("x2", "y4"),
    yaxis4=yaxis_right("y2", "x4"),
    legend=dict(x=100 / 614, y=1 - 12 / 980, **legend_common),
    legend2=dict(x=104 / 614, y=1 - 503 / 980, **legend_common),
    annotations=[
        paper_text("(a)", 21, 13, 25),
        paper_text("(b)", 24, 501, 25),
        paper_text("Phonon frequency (THz)", 346, 473, 24.5),
        paper_text("Phonon frequency (THz)", 346, 964, 24.5),
        paper_text("Phonon scattering rate (THz)", 24, 211, 25, -90),
        paper_text("Phonon scattering rate (THz)", 24, 702, 25, -90),
    ],
    hovermode=False,
)

fig.write_html("out.html")
